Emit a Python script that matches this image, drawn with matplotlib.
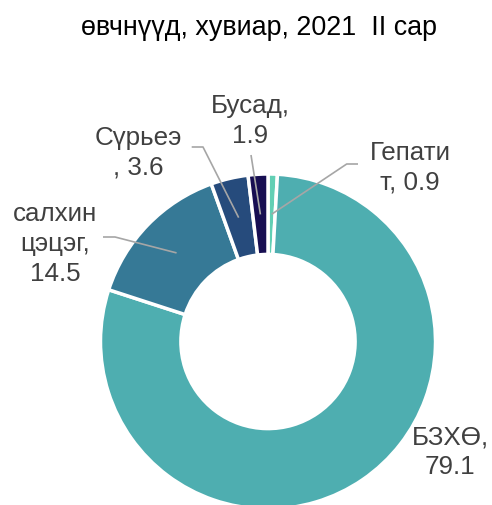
import matplotlib
matplotlib.use("Agg")
import matplotlib.pyplot as plt
import numpy as np

plt.rcParams['font.family'] = ['Liberation Sans', 'DejaVu Sans']

title = "өвчнүүд, хувиар, 2021  II сар"
categories = ["Гепатит", "БЗХӨ", "салхин цэцэг", "Сүрьеэ", "Бусад"]
values = [0.9, 79.1, 14.5, 3.6, 1.9]
label_texts = ["Гепати\nт, 0.9", "БЗХӨ,\n79.1", "салхин\nцэцэг,\n14.5", "Сүрьеэ\n, 3.6", "Бусад,\n1.9"]
colors = ["#62cfb4", "#4eaeb0", "#367996", "#264b7c", "#170e52"]

W, H = 492, 506
fig = plt.figure(figsize=(W / 100, H / 100), dpi=100)

# pie geometry in pixels (from top-left)
cx, cy, R = 268, 342.5, 167.5
ax = fig.add_axes([(cx - R) / W, 1 - (cy + R) / H, 2 * R / W, 2 * R / H])

wedges, _ = ax.pie(values, colors=colors, startangle=90, counterclock=False,
                   radius=1.0, wedgeprops=dict(width=0.48, edgecolor='white', linewidth=2.5))
ax.set_xlim(-1, 1)
ax.set_ylim(-1, 1)
ax.set_aspect('equal')
ax.axis('off')
for w in wedges:
    w.set_clip_on(False)

def px(x, y):
    return (x - cx) / R, (cy - y) / R

# label positions (pixel centers) and leader knee points
label_pos = [(410, 168), (450, 452), (55, 244), (138, 153), (250, 121)]
knees = [[(358, 165), (346.7, 165)], None, [(103, 238), (115, 238)], [(191.7, 148), (203, 148)], [(251, 156)]]

total = sum(values)
ang = 90.0
for i, v in enumerate(values):
    span = v / total * 360
    mid = np.deg2rad(ang - span / 2)
    ang -= span
    lx, ly = px(*label_pos[i])
    ax.text(lx, ly, label_texts[i], ha='center', va='center', fontsize=18.7,
            color='#404040', linespacing=1.3, clip_on=False)
    if knees[i] is not None:
        r = 0.76
        ex, ey = r * np.cos(mid), r * np.sin(mid)
        pts = [px(*k) for k in knees[i]] + [(ex, ey)]
        xs, ys = zip(*pts)
        ax.plot(xs, ys, color='#a6a6a6', lw=1.2, clip_on=False, solid_capstyle='butt')

fig.text(259 / W, 1 - 28 / H, title, ha='center', va='center', fontsize=19.4, color='#000000')

fig.savefig("out.png", dpi=100)
